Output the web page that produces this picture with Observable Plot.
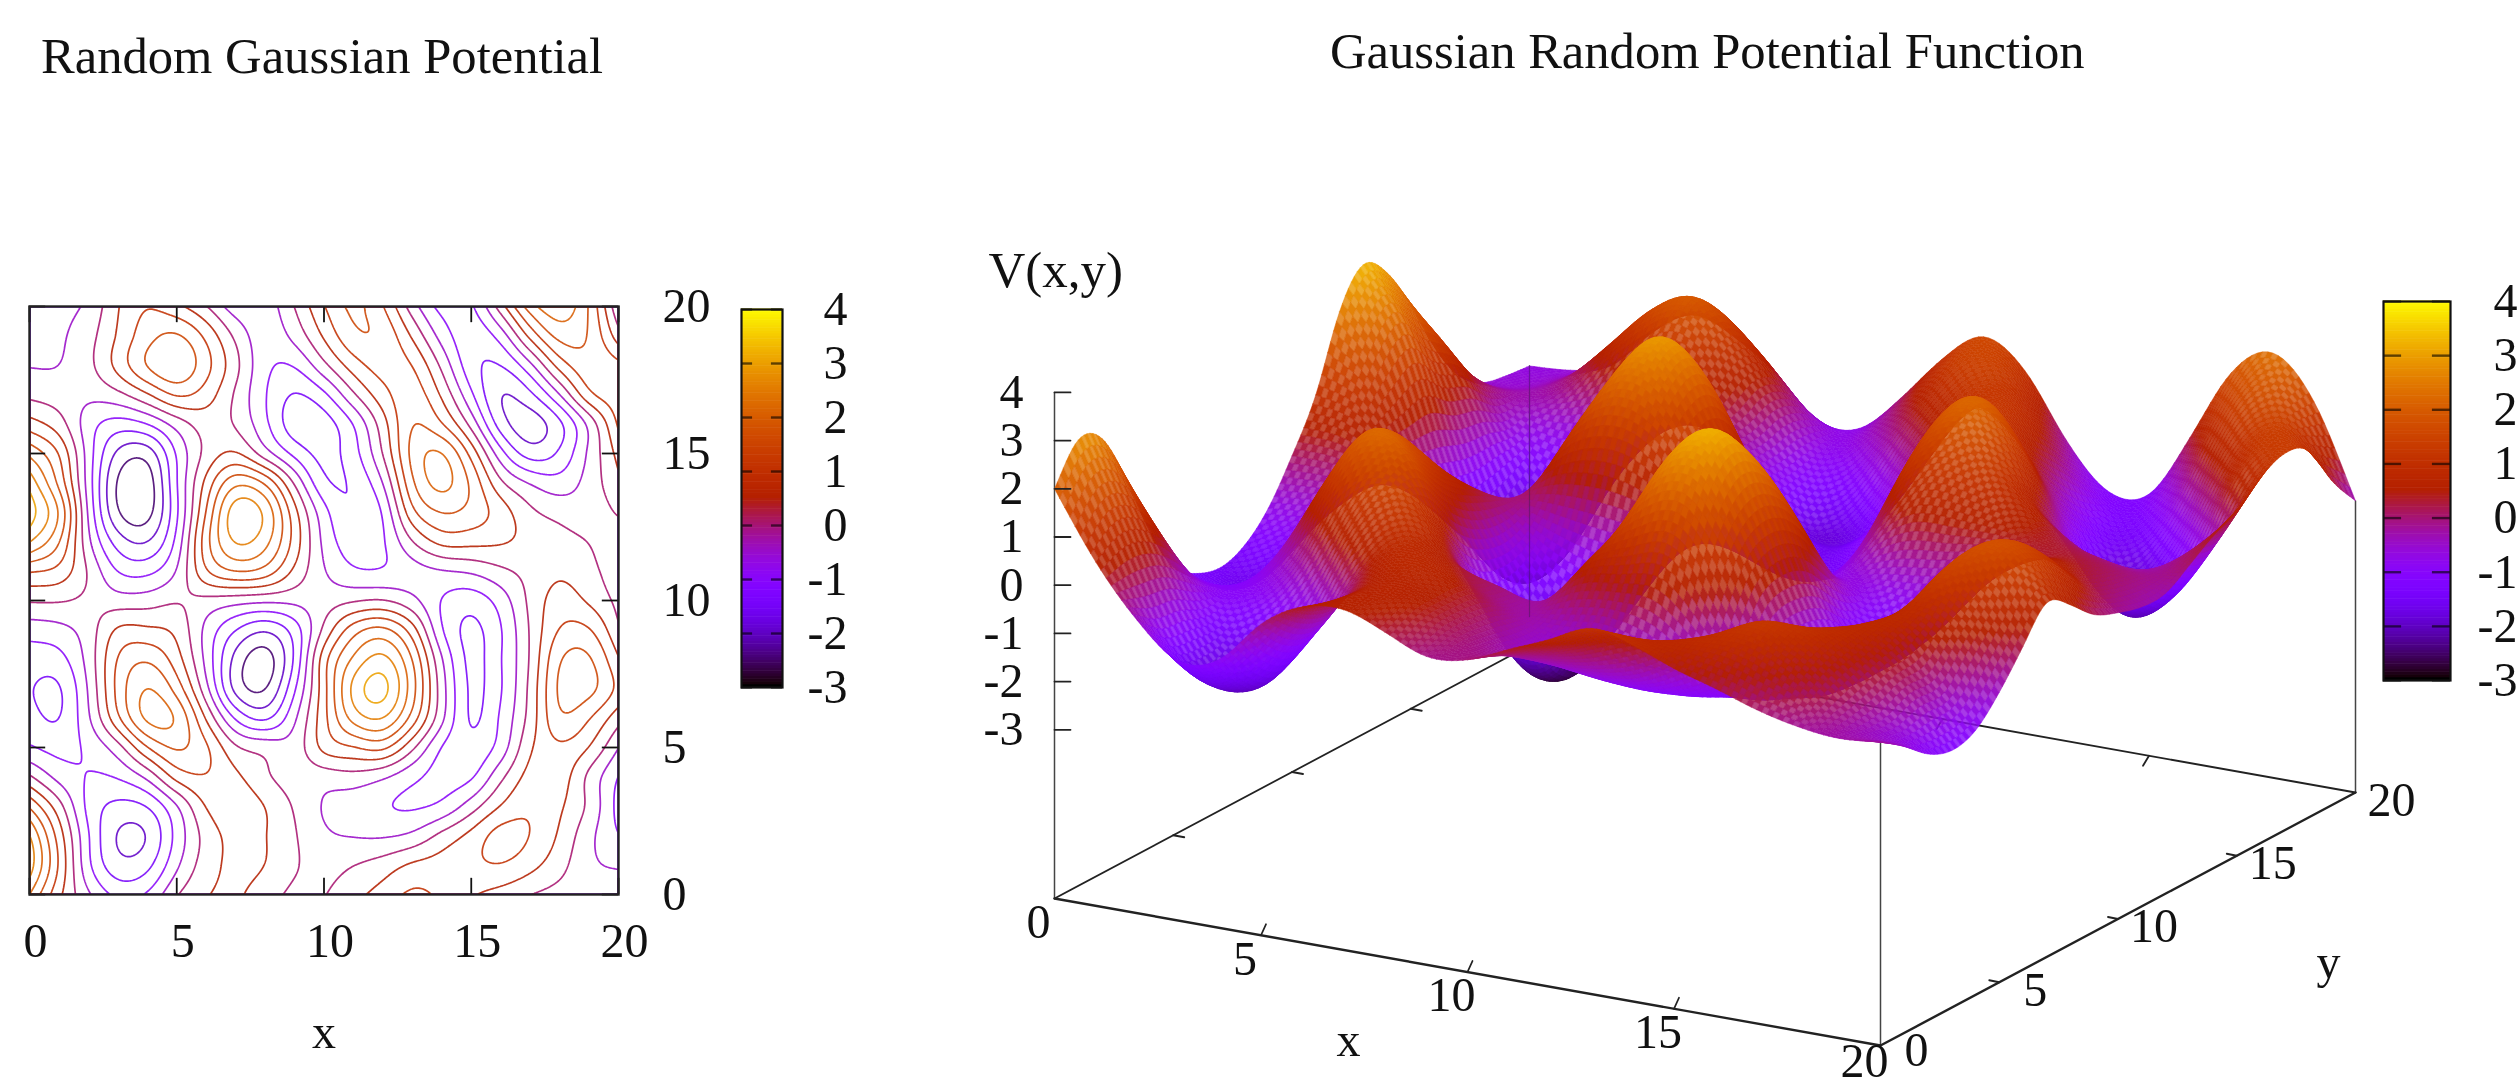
<!DOCTYPE html>
<html><head><meta charset="utf-8">
<script src="https://cdn.jsdelivr.net/npm/d3@7"></script>
<script src="https://cdn.jsdelivr.net/npm/@observablehq/plot@0.6"></script>
<style>
html,body{margin:0;padding:0;background:#fff;width:2517px;height:1079px;overflow:hidden}
.p{position:absolute;top:0}
.p svg{display:block;overflow:visible;background:transparent;filter:blur(.6px)}
.t{position:absolute;font:50.6px/50.6px "Liberation Serif",serif;color:#111;white-space:nowrap;filter:blur(.5px)}
</style></head><body>
<div class="t" style="left:41px;top:31px">Random Gaussian Potential</div>
<div class="t" style="left:1330px;top:26px">Gaussian Random Potential Function</div>
<div id="contour" class="p" style="left:0"></div>
<div id="bar1" class="p" style="left:700px"></div>
<div id="surface" class="p" style="left:900px"></div>
<div id="bar2" class="p" style="left:2340px"></div>
<script>
// Potential V(x,y), x = 0..20 along each row
const y20=[-0.7,-0.65,-0.45,0.5,1.05,0.65,0.05,-0.85,-0.85,0,1.0,1.7,1.1,-0.3,-1.25,-1.2,0.25,1.85,2.45,1.55,-0.45];
const y19=[-0.65,-0.6,-0.2,0.55,1.35,1.7,0.95,-0.1,-0.9,-0.35,0.6,1.5,1.5,0.45,-0.75,-1.45,-0.9,0.7,1.8,1.55,0.2];
const y18=[-0.55,-0.55,-0.15,0.75,1.7,2.15,1.25,0.2,-0.95,-1.05,-0.1,0.8,1.3,1.1,-0.1,-1.45,-1.6,-0.7,0.8,1.45,1.2];
const y17=[-0.15,-0.25,-0.4,-0.15,0.45,1.2,0.8,-0.1,-1.0,-1.65,-1.2,-0.05,0.85,1.4,0.45,-0.95,-2.2,-1.7,-0.55,1.05,1.35];
const y16=[0.7,0.25,-0.85,-1.3,-1.05,-0.35,0.25,-0.05,-0.9,-1.95,-1.85,-1.1,0.25,1.65,1.05,-0.15,-1.9,-2.45,-1.8,-0.5,1.1];
const y15=[1.9,1.1,-0.75,-2.25,-2.5,-0.95,0.15,0.6,-0.4,-1.2,-1.75,-1.25,0,1.8,2.25,0.9,-0.85,-1.9,-1.5,-0.4,0.65];
const y14=[2.85,1.4,-0.75,-2.75,-3.0,-1.0,0.7,2.05,1.6,-0.05,-1.55,-1.5,-0.6,1.55,2.35,1.5,0.05,-0.5,-0.85,-0.3,0.4];
const y13=[3.35,2.2,-0.65,-2.65,-2.9,-1.15,1.05,3.1,2.6,0.7,-0.85,-1.65,-1.1,1.0,1.6,1.4,0.85,0.1,-0.15,-0.3,0.05];
const y12=[2.6,1.65,-0.45,-1.8,-2.15,-0.95,1.45,2.75,2.3,0.85,-0.7,-1.35,-1.15,0,0.75,0.7,0.6,0.4,0.2,0,-0.3];
const y11=[1.0,0.9,0,-1.1,-1.2,-0.55,1.1,1.65,1.45,0.4,-0.5,-1.0,-1.05,-0.8,-0.6,-0.45,-0.1,0.15,0.45,0.15,-0.3];
const y10=[0.05,0.05,-0.1,-0.3,-0.25,0,-0.2,-0.35,-0.4,-0.35,-0.25,-0.1,0,-0.4,-1.1,-1.4,-0.85,0.15,0.8,0.4,-0.15];
const y9=[-0.8,-0.7,-0.3,0.7,0.6,0.45,-0.7,-1.55,-2.1,-1.4,0.1,1.4,1.8,0.85,-1.1,-1.75,-1.1,0.05,1.1,1.15,0.05];
const y8=[-1.3,-1.25,-0.35,1.15,1.55,0.75,-0.65,-2.3,-3.0,-1.55,0.95,2.15,2.85,1.6,-0.5,-1.8,-1.05,0,1.6,1.7,0.55];
const y7=[-1.5,-1.7,-0.5,1.25,2.2,1.35,-0.35,-2.4,-2.75,-1.1,0.8,2.85,3.45,1.8,-0.3,-1.75,-1.1,0.1,1.75,1.8,0.95];
const y6=[-1.35,-1.65,-0.6,1.0,2.35,2.15,0.45,-1.15,-1.8,-0.6,0.85,2.35,2.7,1.4,-0.35,-1.75,-0.95,0.15,1.6,1.05,0.2];
const y5=[-1.0,-1.2,-0.95,-0.3,1.05,1.7,1.2,0.05,-0.05,-0.35,0.8,0.95,1.25,0.1,-1.15,-1.45,-0.9,0.5,0.95,0.55,-0.5];
const y4=[0.05,-0.75,-1.05,-1.0,-0.45,0.8,1.05,0.65,0.05,-0.3,-0.35,-0.2,-0.5,-0.95,-1.25,-1.2,-0.1,0.75,0.85,-0.2,-1.05];
const y3=[1.45,0.25,-1.25,-1.7,-1.6,-0.65,0.6,0.9,0.55,-0.05,-0.6,-0.85,-1.05,-1.15,-1.0,-0.25,0.55,1.0,0.6,-0.05,-1.2];
const y2=[2.6,0.8,-1.0,-2.2,-2.15,-0.85,0.2,0.7,0.55,0.05,-0.45,-0.55,-0.6,-0.45,0.2,0.7,1.35,1.05,0.45,-0.4,-1.0];
const y1=[2.85,1.0,-1.0,-1.95,-1.75,-0.6,0.3,0.65,0.55,0.05,-0.2,0,0.25,0.65,0.75,0.95,1.05,0.7,0.2,-0.45,-0.55];
const y0=[2.0,0.6,-0.45,-1.2,-1.0,0,0.5,0.6,0.25,-0.15,-0.05,0.35,0.7,1.15,0.9,0.55,0.3,0,-0.2,-0.3,-0.2];
const rows=[y0,y1,y2,y3,y4,y5,y6,y7,y8,y9,y10,y11,y12,y13,y14,y15,y16,y17,y18,y19,y20];

const axisTicks=[0,5,10,15,20];
const zTicks=[-3,-2,-1,0,1,2,3,4];
const levels=[-2.5,-2,-1.5,-1,-0.5,0,0.5,1,1.5,2,2.5,3];
const FONT='"Liberation Serif",serif';

// gnuplot's default palette (rgbformulae 7,5,15)
const gp=t=>{t=Math.max(0,Math.min(1,t));
  const r=Math.sqrt(t),g=t*t*t,b=Math.max(0,Math.sin(2*Math.PI*t));
  return `rgb(${Math.round(255*r)},${Math.round(255*g)},${Math.round(255*b)})`;};
const colorScale={type:"linear",domain:[-3,4],interpolate:gp};

// smooth display of the read grid: blend of Catmull-Rom and cubic B-spline
const cr=(a,b,c,d,t)=>b+0.5*t*(c-a+t*(2*a-5*b+4*c-d+t*(3*(b-c)+d-a)));
const bs=(a,b,c,d,t)=>{const s=1-t;return (s*s*s*a+(3*t*t*t-6*t*t+4)*b+(-3*t*t*t+3*t*t+3*t+1)*c+t*t*t*d)/6;};
const mix=(a,b,c,d,t)=>0.45*cr(a,b,c,d,t)+0.55*bs(a,b,c,d,t);
const row=j=>j<0?rows[0].map((v,k)=>2*v-rows[-j][k]):j>20?rows[20].map((v,k)=>2*v-rows[40-j][k]):rows[j];
const at=(i,j)=>{const r=row(j);return i<0?2*r[0]-r[-i]:i>20?2*r[20]-r[40-i]:r[i];};
function V(x,y){
  const i=Math.min(19,Math.floor(x)),j=Math.min(19,Math.floor(y)),tx=x-i,ty=y-j;
  const col=k=>mix(at(i-1,k),at(i,k),at(i+1,k),at(i+2,k),tx);
  return mix(col(j-1),col(j),col(j+1),col(j+2),ty);
}

// ---------- left: contour map
const lw=730;
document.getElementById("contour").append(Plot.plot({
  width:lw,height:1079,marginLeft:29,marginRight:lw-618,marginTop:306,marginBottom:1079-894,
  style:{background:"transparent",fontFamily:FONT,color:"#111"},
  x:{domain:[0,20],axis:null},y:{domain:[0,20],axis:null},
  color:colorScale,
  marks:[
    Plot.contour({value:(x,y)=>V(x,y),x1:0,y1:0,x2:20,y2:20,thresholds:levels,stroke:"value",fill:"none",strokeWidth:1.7,strokeOpacity:0.88,pixelSize:1,clip:true}),
    Plot.ruleX(axisTicks,{y1:0,y2:0.55,stroke:"#111",strokeWidth:1.8}),
    Plot.ruleX(axisTicks,{y1:20,y2:19.45,stroke:"#111",strokeWidth:1.8}),
    Plot.ruleY(axisTicks,{x1:0,x2:0.55,stroke:"#111",strokeWidth:1.8}),
    Plot.ruleY(axisTicks,{x1:20,x2:19.45,stroke:"#111",strokeWidth:1.8}),
    Plot.frame({stroke:"#222",strokeWidth:2.4}),
    Plot.axisX(axisTicks,{anchor:"bottom",tickSize:0,tickPadding:28,fontSize:48,dx:6,label:null,tickFormat:d=>String(d)}),
    Plot.axisY(axisTicks,{anchor:"right",tickSize:0,tickPadding:44,fontSize:48,label:null,tickFormat:d=>String(d)}),
    Plot.text(["x"],{x:10,frameAnchor:"bottom",dy:153,fontSize:48,text:d=>d})
  ]}));

// ---------- colour bars
const barStops=d3.range(-3,4,0.05);
function bar(host,left,right,top,bottom,w,pad){
  document.getElementById(host).append(Plot.plot({
    width:w,height:1079,marginLeft:left,marginRight:w-right,marginTop:top,marginBottom:1079-bottom,
    style:{background:"transparent",fontFamily:FONT,color:"#111"},
    x:{domain:[0,1],axis:null},y:{domain:[-3,4],axis:null},
    color:colorScale,
    marks:[
      Plot.rect(barStops,{x1:0,x2:1,y1:d=>d,y2:d=>d+0.06,fill:d=>d}),
      Plot.ruleY(zTicks,{x1:0,x2:0.27,stroke:"#000",strokeOpacity:0.6,strokeWidth:2.4}),
      Plot.ruleY(zTicks,{x1:0.73,x2:1,stroke:"#000",strokeOpacity:0.6,strokeWidth:2.4}),
      Plot.frame({stroke:"#111",strokeWidth:2.2}),
      Plot.axisY(zTicks,{anchor:"right",tickSize:0,tickPadding:pad,fontSize:48,textAnchor:"end",label:null,tickFormat:d=>String(d)})
    ]}));
}
bar("bar1",41,82,309,687,160,65);
bar("bar2",43,110,301,680,177,67);

// ---------- right: surface
const ZB=-6.5;
const sx=(x,y)=>1054+41.3*x+23.75*y;
const sy=(x,y,z)=>898+7.35*x-12.65*y-(z-ZB)*48.2;
const P=(x,y,z)=>({sx:sx(x,y),sy:sy(x,y,z)});
const N=160,step=20/N;
const cells=[];
for(let a=0;a<2*N;a++){          // far corner (x=0,y=20) first
  for(let i=0;i<N;i++){
    const j=N-1-(a-i);
    if(j<0||j>=N) continue;
    const x=i*step,y=j*step,id=i*N+j;
    const c=[[x,y],[x+step,y],[x+step,y+step],[x,y+step],[x,y]];
    const pts=c.map(([u,w])=>{const z=V(u,w);return {...P(u,w,z),z};});
    const v=(pts[0].z+pts[1].z+pts[2].z+pts[3].z)/4;
    // how squarely the cell faces the viewer: screen area against its flat area
    const dx1=pts[2].sx-pts[0].sx,dy1=pts[2].sy-pts[0].sy,dx2=pts[3].sx-pts[1].sx,dy2=pts[3].sy-pts[1].sy;
    const r=Math.abs(dx1*dy2-dy1*dx2)/2/(697*step*step);
    const dim=Math.max(0,Math.min(1,(r-1.3)/1.5))*((i+j)%2?0.2:0.03);
    pts.forEach(p=>cells.push({sx:p.sx,sy:p.sy,id,v,o:1-dim}));
  }
}
const base=[[0,20],[0,0],[20,0],[20,20],[0,20]].map(([x,y])=>P(x,y,ZB));
const edge=(a,b)=>[P(a[0],a[1],a[2]),P(b[0],b[1],b[2])];
const line=(pts,o)=>Plot.line(pts,{x:"sx",y:"sy",stroke:"#222",...o});
const tickOn=(list,f)=>list.flatMap(v=>[f(v,0),f(v,1)].map(p=>({...p,v})));
const W3=1480;
document.getElementById("surface").append(Plot.plot({
  width:W3,height:1079,margin:0,
  style:{background:"transparent",fontFamily:FONT,color:"#111"},
  x:{domain:[900,900+W3],range:[0,W3],axis:null},y:{domain:[0,1079],range:[0,1079],axis:null},
  color:colorScale,
  marks:[
    line(base.slice(0,2),{strokeWidth:1.8}),
    line([base[3],base[4]],{strokeWidth:1.8}),
    line(edge([0,0,ZB],[0,0,4]),{strokeWidth:1.5,stroke:"#444"}),
    line(edge([0,20,ZB],[0,20,rows[20][0]]),{strokeWidth:1.5,stroke:"#444"}),
    line(edge([20,0,ZB],[20,0,rows[0][20]]),{strokeWidth:1.5,stroke:"#444"}),
    line(edge([20,20,ZB],[20,20,rows[20][20]]),{strokeWidth:1.5,stroke:"#444"}),
    Plot.line(tickOn([5,10,15],(v,k)=>({sx:sx(0,v)+k*11,sy:sy(0,v,ZB)+k*2})),{x:"sx",y:"sy",z:"v",stroke:"#222",strokeWidth:1.8}),
    Plot.line(tickOn([5,10,15],(v,k)=>({sx:sx(v,20)-k*6,sy:sy(v,20,ZB)+k*10})),{x:"sx",y:"sy",z:"v",stroke:"#222",strokeWidth:1.8}),
    Plot.line(cells,{x:"sx",y:"sy",z:"id",fill:"v",stroke:"v",strokeWidth:0.5,fillOpacity:"o",strokeOpacity:"o"}),
    line(edge([0,20,-5.9],[0,20,rows[20][0]]),{strokeWidth:1.2,stroke:"#223",strokeOpacity:0.35}),
    line([base[1],base[2]],{strokeWidth:2.4}),
    line([base[2],base[3]],{strokeWidth:2.4}),
    Plot.line(tickOn([5,10,15],(v,k)=>({sx:sx(v,0)+k*5,sy:sy(v,0,ZB)-k*11})),{x:"sx",y:"sy",z:"v",stroke:"#222",strokeWidth:1.8}),
    Plot.line(tickOn([5,10,15],(v,k)=>({sx:sx(20,v)-k*10,sy:sy(20,v,ZB)-k*2})),{x:"sx",y:"sy",z:"v",stroke:"#222",strokeWidth:1.8}),
    Plot.line(tickOn(zTicks,(v,k)=>({sx:1054+k*16,sy:sy(0,0,v)})),{x:"sx",y:"sy",z:"v",stroke:"#222",strokeWidth:1.8}),
    Plot.text(zTicks,{x:()=>1054,y:d=>sy(0,0,d),text:d=>String(d),textAnchor:"end",dx:-31,fontSize:48}),
    Plot.text(axisTicks,{x:d=>sx(d,0),y:d=>sy(d,0,ZB)-(d===20?8:0),text:d=>String(d),dx:-16,dy:24,fontSize:48}),
    Plot.text(axisTicks,{x:d=>sx(20,d),y:d=>sy(20,d,ZB)-(d===0?3:0),text:d=>String(d),dx:36,dy:8,fontSize:48}),
    Plot.text(["x"],{x:()=>1348,y:()=>1040,text:d=>d,fontSize:48}),
    Plot.text(["y"],{x:()=>2328,y:()=>962,text:d=>d,fontSize:48}),
    Plot.text(["V(x,y)"],{x:()=>988,y:()=>270,text:d=>d,textAnchor:"start",fontSize:51})
  ]}));
</script>
</body></html>
